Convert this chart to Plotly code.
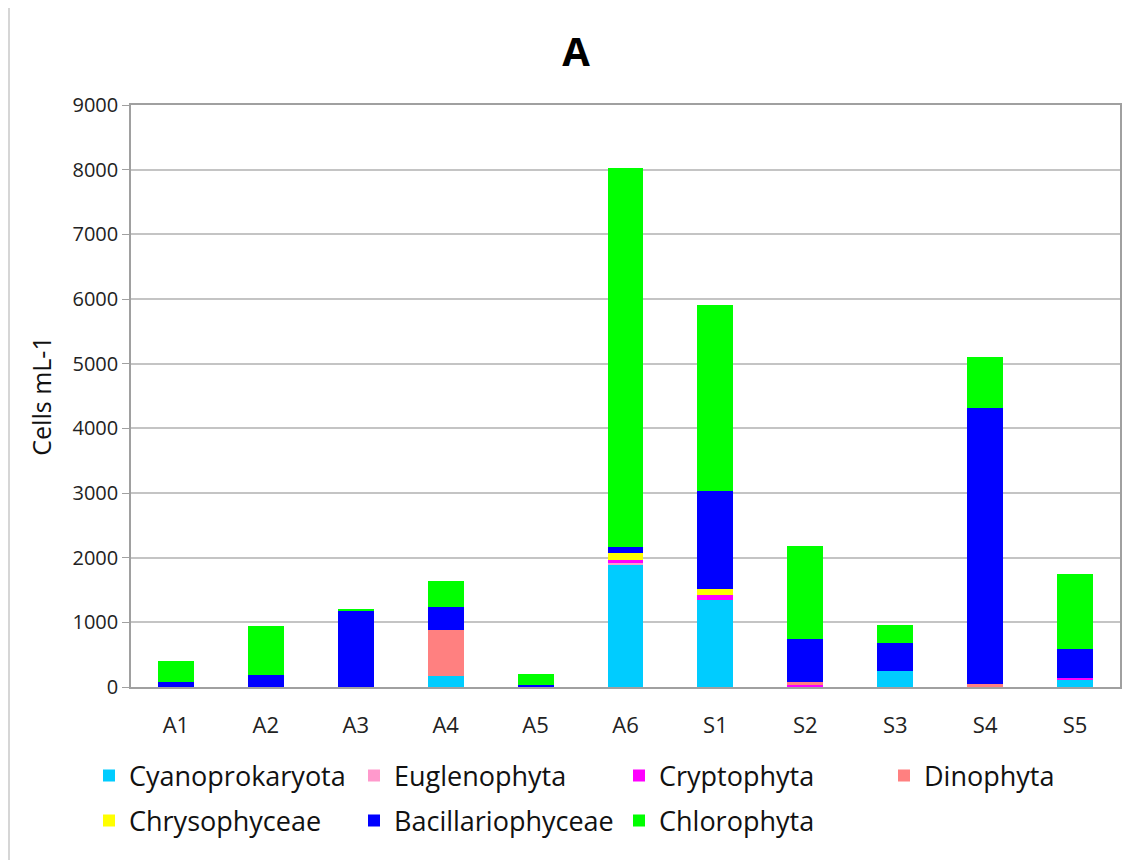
import plotly.graph_objects as go

categories = ["A1", "A2", "A3", "A4", "A5", "A6", "S1", "S2", "S3", "S4", "S5"]

cyanoprokaryota = [0, 0, 0, 170, 0, 1890, 1340, 0, 245, 0, 115]
euglenophyta = [0, 0, 0, 0, 0, 20, 0, 0, 0, 0, 0]
cryptophyta = [0, 0, 0, 0, 0, 50, 90, 45, 0, 15, 30]
dinophyta = [0, 0, 0, 710, 0, 0, 0, 30, 0, 30, 0]
chrysophyceae = [0, 0, 0, 0, 0, 110, 80, 0, 0, 0, 0]
bacillariophyceae = [80, 190, 1180, 360, 25, 100, 1520, 675, 440, 4275, 435]
chlorophyta = [320, 750, 20, 400, 170, 5850, 2875, 1435, 280, 790, 1160]

series = [
    ("Cyanoprokaryota", cyanoprokaryota, "#00CCFF", "legend"),
    ("Euglenophyta", euglenophyta, "#FF99CC", "legend"),
    ("Cryptophyta", cryptophyta, "#FF00FF", "legend"),
    ("Dinophyta", dinophyta, "#FF8080", "legend"),
    ("Chrysophyceae", chrysophyceae, "#FFFF00", "legend2"),
    ("Bacillariophyceae", bacillariophyceae, "#0000FF", "legend2"),
    ("Chlorophyta", chlorophyta, "#00FF00", "legend2"),
]

y_ticks = list(range(0, 9001, 1000))

# page body has an 8px margin; coordinates below are screen pixels
OFF = 8
W, H = 1132 - OFF, 860 - OFF
ML = 131 - OFF
MR = W - (1120 - OFF)
MT = 105 - OFF
MB = H - (687 - OFF)
PW = W - ML - MR
PH = H - MT - MB

fig = go.Figure()
for name, vals, col, lg in series:
    fig.add_trace(go.Bar(x=categories, y=vals, name=name, legend=lg,
                         marker=dict(color=col, line=dict(width=0))))


def px_x(p):
    return (p - OFF - ML) / PW


def px_y(p):
    return (H - MB - (p - OFF)) / PH


legend_common = dict(orientation="h", x=px_x(89), xanchor="left",
                     yanchor="middle", entrywidth=220, entrywidthmode="pixels",
                     traceorder="normal", bgcolor="rgba(0,0,0,0)",
                     font=dict(family="Open Sans", size=27, color="#111111"),
                     itemwidth=30)

fig.update_layout(
    width=W, height=H,
    barmode="stack", bargap=0.6,
    margin=dict(l=ML, r=MR, t=MT, b=MB, autoexpand=False),
    paper_bgcolor="white",
    plot_bgcolor="white",
    font=dict(family="Open Sans", size=19, color="#222222"),
    title=dict(text="<b>A</b>", xref="container", x=(576 - OFF) / W,
               xanchor="center", yref="container",
               y=1 - (52 - OFF) / H, yanchor="middle",
               font=dict(family="Open Sans", size=40, color="black")),
    xaxis=dict(showgrid=False, showline=True, linecolor="#a0a0a0", linewidth=2,
               mirror=True, ticks="", ticklabelstandoff=18,
               tickfont=dict(size=22, color="#222222")),
    yaxis=dict(range=[0, 9000], tickvals=y_ticks, showgrid=True,
               gridcolor="#c4c4c4", gridwidth=1.5,
               showline=True, linecolor="#a0a0a0", linewidth=1.5, mirror=True,
               ticks="outside", ticklen=7, tickcolor="#a0a0a0",
               tickfont=dict(size=20, color="#222222"),
               zeroline=False,
               title=dict(text="Cells mL-1", standoff=14,
                          font=dict(size=25, color="#111111"))),
    legend=dict(legend_common, y=px_y(776)),
    legend2=dict(legend_common, y=px_y(821)),
    shapes=[dict(type="line", xref="paper", yref="paper",
                 x0=px_x(OFF + 1), x1=px_x(OFF + 1), y0=px_y(860), y1=px_y(OFF),
                 line=dict(color="#d6d6d6", width=2))],
)

fig.write_html("out.html")
